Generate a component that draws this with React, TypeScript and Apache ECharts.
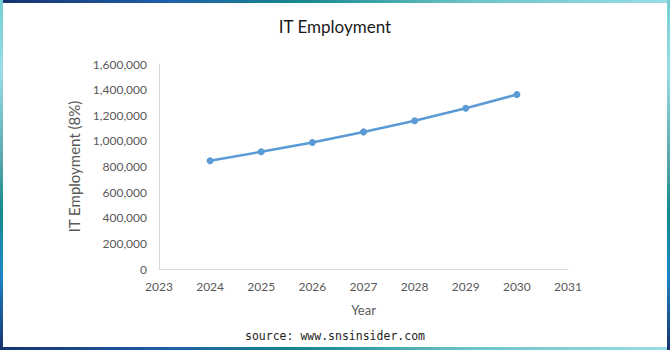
import React, { useEffect, useRef } from "react";
import * as echarts from "echarts";

const years: number[] = [2024, 2025, 2026, 2027, 2028, 2029, 2030];
const employment: number[] = [845000, 915000, 988000, 1070000, 1157000, 1255000, 1362000];
const titleText = "IT Employment";
const yAxisName = "IT Employment (8%)";
const xAxisName = "Year";
const sourceText = "source: www.snsinsider.com";

const W = 670;
const H = 350;

function grad(x: number, y: number, x2: number, y2: number, stops: [number, string][]) {
  return new echarts.graphic.LinearGradient(x, y, x2, y2, stops.map(([offset, color]) => ({ offset, color })));
}

export default function App() {
  const ref = useRef<HTMLDivElement>(null);
  useEffect(() => {
    if (!ref.current) return;
    const chart = echarts.init(ref.current, undefined, { renderer: "svg", width: W, height: H });
    const B = 3;
    const hStops: [number, string][] = [
      [0, "#17336e"],
      [0.25, "#1f5fa8"],
      [0.45, "#17888c"],
      [0.7, "#6cc4c8"],
      [1, "#9adde6"],
    ];
    const vStops: [number, string][] = [
      [0, "#72cfd2"],
      [0.2, "#9adde6"],
      [0.45, "#5aa9ad"],
      [0.6, "#158a8c"],
      [0.78, "#1e86c8"],
      [1, "#17336e"],
    ];
    chart.setOption({
      animation: false,
      backgroundColor: "#ffffff",
      title: {
        text: titleText,
        left: "center",
        top: 13,
        textStyle: {
          fontFamily: "Lato, sans-serif",
          fontWeight: "normal",
          fontSize: 17,
          color: "#1a1a1a",
        },
      },
      grid: { left: 159, right: 102, top: 64, bottom: 81 },
      xAxis: {
        type: "value",
        min: 2023,
        max: 2031,
        interval: 1,
        name: xAxisName,
        nameLocation: "middle",
        nameGap: 34,
        nameTextStyle: { color: "#595959", fontSize: 13, fontFamily: "Lato, sans-serif" },
        axisLine: { show: true, lineStyle: { color: "#d9d9d9", width: 1 } },
        axisTick: { show: false },
        splitLine: { show: false },
        axisLabel: {
          color: "#595959",
          fontSize: 12,
          fontFamily: "Lato, sans-serif",
          margin: 11,
          formatter: (v: number) => String(v),
        },
      },
      yAxis: {
        type: "value",
        min: 0,
        max: 1600000,
        interval: 200000,
        name: yAxisName,
        nameLocation: "middle",
        nameRotate: 90,
        nameGap: 72,
        nameTextStyle: { color: "#595959", fontSize: 15, fontFamily: "Lato, sans-serif" },
        axisLine: { show: true, lineStyle: { color: "#d9d9d9", width: 1 } },
        axisTick: { show: false },
        splitLine: { show: false },
        axisLabel: {
          color: "#595959",
          fontSize: 12,
          fontFamily: "Lato, sans-serif",
          margin: 12,
          formatter: (v: number) => v.toLocaleString("en-US"),
        },
      },
      series: [
        {
          type: "line",
          data: years.map((y, i) => [y, employment[i]]),
          symbol: "circle",
          symbolSize: 7,
          lineStyle: { color: "#5b9bd5", width: 2.5 },
          itemStyle: { color: "#5b9bd5" },
        },
      ],
      graphic: [
        { type: "rect", left: 0, top: 0, shape: { x: 0, y: 0, width: W, height: B }, style: { fill: grad(0, 0, 1, 0, hStops) } },
        { type: "rect", left: 0, top: H - B, shape: { x: 0, y: 0, width: W, height: B }, style: { fill: grad(0, 0, 1, 0, hStops) } },
        { type: "rect", left: 0, top: 0, shape: { x: 0, y: 0, width: B, height: H }, style: { fill: grad(0, 0, 0, 1, vStops) } },
        { type: "rect", left: W - B, top: 0, shape: { x: 0, y: 0, width: B, height: H }, style: { fill: grad(0, 0, 0, 1, vStops) } },
        {
          type: "text",
          left: "center",
          top: 330,
          style: {
            text: sourceText,
            fill: "#222222",
            fontSize: 11.5,
            fontFamily: "'DejaVu Sans Mono', monospace",
          },
        },
      ],
    });
    return () => chart.dispose();
  }, []);
  return (
    <div
      ref={ref}
      style={{ position: "absolute", left: 0, top: 0, width: W, height: H }}
    />
  );
}
